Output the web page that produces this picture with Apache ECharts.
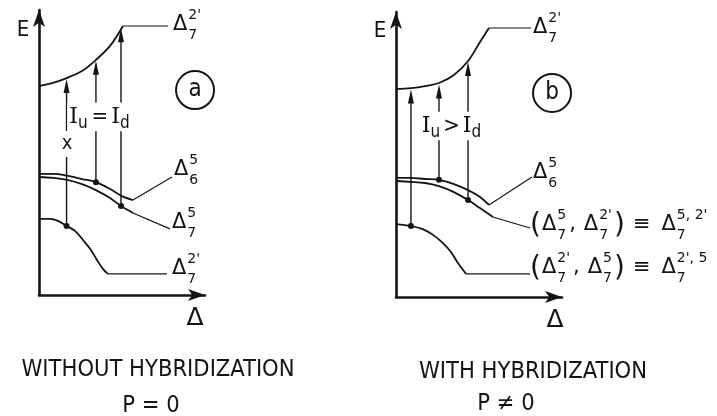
<!DOCTYPE html>
<html>
<head>
<meta charset="utf-8">
<script src="https://cdn.jsdelivr.net/npm/echarts@6/dist/echarts.min.js"></script>
<style>
  html, body { margin: 0; padding: 0; background: #fff; }
  #chart { width: 717px; height: 416px; }
</style>
</head>
<body>
<div id="chart"></div>
<script>
// ---------- Panel (a): without hybridization, P = 0 ----------
const aUpper27 = [[0, 7.33], [0.84, 7.44], [1.66, 7.61], [2.59, 7.86], [3.43, 8.25], [4.28, 8.74], [5.06, 9.44]];
const aLevel65 = [[0, 4.25], [0.84, 4.25], [1.75, 4.18], [2.59, 4.07], [3.43, 3.96], [4.28, 3.72], [5.0, 3.47], [5.66, 3.33]];
const aLevel75 = [[0, 4.14], [0.84, 4.11], [1.69, 4.04], [2.59, 3.89], [3.43, 3.68], [4.28, 3.40], [4.94, 3.12], [5.66, 2.88]];
const aLower27 = [[0, 2.67], [0.66, 2.67], [1.14, 2.60], [1.66, 2.42], [2.17, 2.25], [2.65, 1.93], [3.13, 1.58], [3.49, 1.23], [3.86, 0.91], [4.16, 0.74]];
// where each level's leader line ends (its name is written there)
const aLabelAt = [[7.77, 9.44], [8.01, 4.14], [7.89, 2.32], [7.71, 0.74]];
// optical transitions: [Δ, E from, E to]
const aTransitions = [[1.66, 2.42, 7.58], [3.43, 3.96, 8.22], [4.94, 3.12, 9.36]];

// ---------- Panel (b): with hybridization, P ≠ 0 ----------
const bUpper27 = [[0, 7.30], [0.90, 7.33], [1.75, 7.40], [2.59, 7.51], [3.49, 7.79], [4.34, 8.28], [5.06, 8.95], [5.60, 9.44]];
const bLevel65 = [[0, 4.18], [0.90, 4.18], [1.75, 4.14], [2.59, 4.11], [3.49, 3.96], [4.34, 3.75], [5.06, 3.51], [5.60, 3.23]];
const bLevel75 = [[0, 4.07], [0.90, 4.04], [1.75, 4.00], [2.59, 3.89], [3.49, 3.68], [4.34, 3.40], [5.06, 3.12], [5.84, 2.81]];
const bLower27 = [[0, 2.56], [0.90, 2.49], [1.57, 2.39], [2.23, 2.18], [2.83, 1.89], [3.31, 1.58], [3.73, 1.19], [4.22, 0.81]];
const bLabelAt = [[8.13, 9.44], [8.19, 4.21], [8.07, 2.42], [8.07, 0.81]];
const bTransitions = [[0.90, 2.49, 7.28], [2.59, 4.11, 7.46], [4.34, 3.40, 8.25]];

// ---------- Names and annotations ----------
const D = (sup, sub) => ({ b: 'Δ', sup: sup, sub: sub });
const SERIF_I = { t: 'I', serif: true };
const aLevelNames = [[D("2'", '7')], [D('5', '6')], [D('5', '7')], [D("2'", '7')]];
const bLevelNames = [
  [D("2'", '7')],
  [D('5', '6')],
  [{ t: '(', big: true }, { gap: 1 }, D('5', '7'), { gap: 3 }, ',', { gap: 8 }, D("2'", '7'), { gap: 2 }, { t: ')', big: true }, { gap: 8 }, '≡', { gap: 11 }, D("5, 2'", '7')],
  [{ t: '(', big: true }, { gap: 1 }, D("2'", '7'), { gap: 3 }, ',', { gap: 8 }, D('5', '7'), { gap: 2 }, { t: ')', big: true }, { gap: 8 }, '≡', { gap: 11 }, D("2', 5", '7')]
];
const aNotes = [
  { at: [-0.96, 9.30], parts: ['E'] },
  { at: [9.40, -0.84], parts: ['Δ'] },
  { at: [1.69, 5.30], parts: ['x'] },
  { at: [3.67, 6.25], parts: [SERIF_I, { sub: 'u' }, { gap: 3 }, '=', { gap: 3 }, SERIF_I, { sub: 'd' }] }
];
const bNotes = [
  { at: [-0.96, 9.33], parts: ['E'] },
  { at: [9.58, -0.84], parts: ['Δ'] },
  { at: [3.37, 6.00], parts: [SERIF_I, { sub: 'u' }, { gap: 2 }, '>', { gap: 3 }, SERIF_I, { sub: 'd' }] }
];
const panelTags = [['a', [9.40, 7.19]], ['b', [9.40, 7.16]]];
const captions = [['WITHOUT HYBRIDIZATION', 'P = 0'], ['WITH HYBRIDIZATION', 'P ≠ 0']];

// ---------- Styling ----------
const INK = '#141414';
const TEXT_FONT = "'DejaVu Sans Condensed', 'Liberation Sans Narrow', 'DejaVu Sans', sans-serif";
const MATH_FONT = "'DejaVu Sans', sans-serif";
const SERIF_FONT = "'DejaVu Serif', serif";
const levelStyle = { size: 21, small: 14, big: 28, family: MATH_FONT };
const noteStyles = [
  { size: 22, small: 15, family: TEXT_FONT, center: true },
  { size: 25, small: 15, family: MATH_FONT, center: true },
  { size: 20, small: 15, family: TEXT_FONT, center: true, bg: true },
  { size: 22, small: 17, family: TEXT_FONT, center: true, bg: true }
];
const bNoteStyles = [noteStyles[0], noteStyles[1], noteStyles[3]];
const aNudge = [[5, -1], [2, -7], [2, -6], [5, -5]];
const bNudge = [[2, 0], [1, -4], [0, -3], [0, -6]];

const measureCtx = document.createElement('canvas').getContext('2d');
function measure(text, size, family) {
  measureCtx.font = size + 'px ' + family;
  return measureCtx.measureText(text).width;
}
function textEl(text, x, y, size, family) {
  return {
    type: 'text', x: x, y: y,
    style: { text: text, fontSize: size, fontFamily: family, fill: INK, align: 'left', verticalAlign: 'middle' }
  };
}
// lays a row of glyph parts out from x = 0, vertically centred on y = 0
function layoutParts(parts, st) {
  const els = [];
  let cx = 0;
  parts.forEach(function (p) {
    if (typeof p === 'string') p = { t: p };
    if (p.gap) { cx += p.gap; return; }
    if (p.t != null) {
      const size = p.big ? st.big : st.size;
      const fam = p.serif ? SERIF_FONT : st.family;
      els.push(textEl(p.t, cx, p.big ? 1 : 0, size, fam));
      cx += measure(p.t, size, fam);
      return;
    }
    if (p.b) {
      els.push(textEl(p.b, cx, 0, st.size, st.family));
      cx += measure(p.b, st.size, st.family) + 1;
    }
    let w = 0;
    if (p.sup) {
      els.push(textEl(p.sup, cx, -st.size * 0.45, st.small, st.family));
      w = Math.max(w, measure(p.sup, st.small, st.family));
    }
    if (p.sub) {
      els.push(textEl(p.sub, cx, st.size * (p.b ? 0.5 : 0.3), st.small, st.family));
      w = Math.max(w, measure(p.sub, st.small, st.family));
    }
    cx += w + (p.b ? 0 : 1);
  });
  return { width: cx, els: els };
}
function textSeries(gridIdx, points, partsList, styleList, nudges) {
  return {
    type: 'custom', xAxisIndex: gridIdx, yAxisIndex: gridIdx, z: 10, clip: false,
    encode: { x: 0, y: 1 },
    data: points,
    renderItem: function (params, api) {
      const i = params.dataIndex;
      const st = styleList[i];
      const p = api.coord([api.value(0), api.value(1)]);
      const lay = layoutParts(partsList[i], st);
      const n = nudges ? nudges[i] : [0, 0];
      let x0 = p[0] + n[0];
      if (st.center) x0 -= lay.width / 2;
      const children = lay.els.slice();
      if (st.bg) {
        const h = st.size * 1.3;
        children.unshift({ type: 'rect', shape: { x: -2, y: -h / 2, width: lay.width + 4, height: h }, style: { fill: '#fff' } });
      }
      return { type: 'group', x: x0, y: p[1] + n[1], children: children };
    }
  };
}
function arrowSeries(gridIdx, transitions) {
  return {
    type: 'custom', xAxisIndex: gridIdx, yAxisIndex: gridIdx, z: 4, clip: false,
    encode: { x: 0, y: [1, 2] },
    data: transitions,
    renderItem: function (params, api) {
      const p0 = api.coord([api.value(0), api.value(1)]);
      const p1 = api.coord([api.value(0), api.value(2)]);
      const len = 14, half = 3;
      return {
        type: 'group',
        children: [
          { type: 'line', shape: { x1: p0[0], y1: p0[1], x2: p1[0], y2: p1[1] + len - 2 }, style: { stroke: INK, lineWidth: 1.4 } },
          { type: 'polygon', shape: { points: [[p1[0], p1[1]], [p1[0] - half, p1[1] + len], [p1[0] + half, p1[1] + len]] }, style: { fill: INK } }
        ]
      };
    }
  };
}
function curve(gridIdx, data) {
  return {
    type: 'line', xAxisIndex: gridIdx, yAxisIndex: gridIdx, data: data, smooth: 0.35,
    symbol: 'none', clip: false, z: 3, lineStyle: { color: INK, width: 1.8 }, silent: true
  };
}
function leader(gridIdx, from, to) {
  return {
    type: 'line', xAxisIndex: gridIdx, yAxisIndex: gridIdx, data: [from, to],
    symbol: 'none', clip: false, z: 3, lineStyle: { color: INK, width: 1.1 }, silent: true
  };
}
function dots(gridIdx, transitions) {
  return {
    type: 'scatter', xAxisIndex: gridIdx, yAxisIndex: gridIdx, z: 5, symbolSize: 6,
    itemStyle: { color: INK, opacity: 1 }, data: transitions.map(t => [t[0], t[1]])
  };
}
function tag(gridIdx) {
  return {
    type: 'scatter', xAxisIndex: gridIdx, yAxisIndex: gridIdx, z: 5, symbol: 'circle', symbolSize: 38,
    itemStyle: { color: '#fff', borderColor: INK, borderWidth: 2, opacity: 1 },
    label: { show: true, position: 'inside', formatter: panelTags[gridIdx][0], color: INK, opacity: 1, fontSize: 24, fontFamily: TEXT_FONT },
    data: [panelTags[gridIdx][1]]
  };
}
function axisPair(gridIdx) {
  const common = {
    gridIndex: gridIdx, type: 'value', min: 0, max: 10,
    axisLine: { show: true, lineStyle: { color: INK, width: 2.6 }, symbol: ['none', 'arrow'], symbolSize: [9, 17] },
    axisTick: { show: false }, axisLabel: { show: false }, splitLine: { show: false }
  };
  return [Object.assign({}, common), Object.assign({}, common)];
}

const chart = echarts.init(document.getElementById('chart'), null, { renderer: 'canvas' });
const ax0 = axisPair(0), ax1 = axisPair(1);
const aCurves = [aUpper27, aLevel65, aLevel75, aLower27];
const bCurves = [bUpper27, bLevel65, bLevel75, bLower27];

const series = [];
aCurves.forEach((c, i) => { series.push(curve(0, c)); series.push(leader(0, c[c.length - 1], aLabelAt[i])); });
bCurves.forEach((c, i) => { series.push(curve(1, c)); series.push(leader(1, c[c.length - 1], bLabelAt[i])); });
series.push(arrowSeries(0, aTransitions), arrowSeries(1, bTransitions));
series.push(dots(0, aTransitions), dots(1, bTransitions));
series.push(tag(0), tag(1));
series.push(textSeries(0, aLabelAt, aLevelNames, aLevelNames.map(() => levelStyle), aNudge));
series.push(textSeries(1, bLabelAt, bLevelNames, bLevelNames.map(() => levelStyle), bNudge));
series.push(textSeries(0, aNotes.map(n => n.at), aNotes.map(n => n.parts), noteStyles, null));
series.push(textSeries(1, bNotes.map(n => n.at), bNotes.map(n => n.parts), bNoteStyles, null));

const captionStyle = { fontSize: 23.5, fontFamily: TEXT_FONT, fill: INK, align: 'center', verticalAlign: 'middle' };
chart.setOption({
  backgroundColor: '#fff',
  animation: false,
  grid: [
    { left: 39, top: 10, width: 166, height: 285, outerBoundsMode: 'none', containLabel: false },
    { left: 396, top: 12, width: 166, height: 285, outerBoundsMode: 'none', containLabel: false }
  ],
  xAxis: [ax0[0], ax1[0]],
  yAxis: [ax0[1], ax1[1]],
  series: series,
  graphic: [
    { type: 'text', x: 158, y: 370, style: Object.assign({ text: captions[0][0] }, captionStyle) },
    { type: 'text', x: 151, y: 406, style: Object.assign({ text: captions[0][1] }, captionStyle) },
    { type: 'text', x: 533, y: 372, style: Object.assign({ text: captions[1][0] }, captionStyle) },
    { type: 'text', x: 506, y: 404, style: Object.assign({ text: captions[1][1] }, captionStyle) }
  ]
});
</script>
</body>
</html>
